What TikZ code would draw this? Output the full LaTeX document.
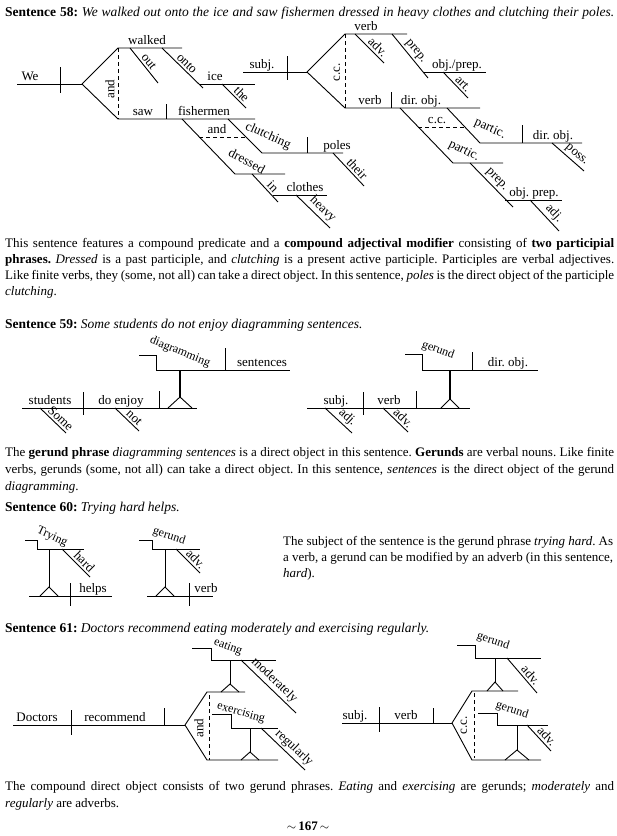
\documentclass[tikz,border=0pt]{standalone}
\usepackage{fontspec}
\setmainfont{Liberation Serif}
\newcommand\labf{\fontsize{13}{15}\selectfont}
\newcommand\stepf{\fontsize{12}{14}\selectfont}
\newcommand\bodyf{\fontsize{13}{16}\selectfont}
\newcommand\ttlf{\fontsize{13.5}{16}\selectfont}
\begin{document}
\frenchspacing
\begin{tikzpicture}[x=1pt,y=-1pt,
  ln/.style={line width=0.9pt},
  hv/.style={line width=1.6pt},
  dsh/.style={line width=0.9pt, dash pattern=on 4pt off 3pt},
  wl/.style={above, inner sep=1pt, text height=9pt, text depth=2.5pt, font=\labf},
  sl/.style={sloped, above, inner sep=2pt, font=\labf, pos=0.5},
  sll/.style={sl, pos=0.62},
  rl/.style={inner sep=0pt, font=\labf},
  rs/.style={inner sep=0pt, font=\stepf},
  vl/.style={rotate=90, inner sep=0pt, font=\labf},
  body/.style={anchor=base west, inner sep=0pt, font=\bodyf},
  ttl/.style={anchor=base west, inner sep=0pt, font=\ttlf},
]
\fill[white] (0,0) rectangle (617,836);
\useasboundingbox (0,0) rectangle (617,836);

% ---------------- Sentence 58
\node[ttl] (t58) at (5,16) {\makebox[609pt][s]{\textbf{Sentence 58:} \textit{We walked out onto the ice and saw fishermen dressed in heavy clothes and clutching their poles.}}};
\draw[ln] (17,84) -- (82,84);
\draw[ln] (60,67) -- (60,93);
\node[wl] (we) at (30,84) {We};
\draw[ln] (82,84) -- (118,48) -- (182,48);
\draw[ln] (82,84) -- (118,119) -- (255,119);
\node[wl] (walked) at (147,48) {walked};
\draw[dsh] (118,48) -- (118,119);
\node[vl] (and1) at (110,89) {and};
\draw[ln] (130,48) -- node[sl] (out) {out} (158,83);
\draw[ln] (162,48) -- node[sl] (onto) {onto} (203,88);
\draw[ln] (199,84) -- (255,84);
\node[wl] (ice) at (215,84) {ice};
\draw[ln] (222,84) -- node[sll] (the) {the} (246,108);
\draw[ln] (166,104) -- (166,119);
\node[wl] (saw) at (143,119) {saw};
\node[wl] (fish) at (204,119) {fishermen};
\draw[ln] (182,119) -- (235,174) -- (285,174);
\node[rl, rotate=-28] (dressed) at (247,161) {dressed};
\draw[ln] (252,174) -- node[sll] (in) {in} (278,202);
\draw[ln] (273,195) -- (327,195);
\node[wl] (clothes) at (305,195) {clothes};
\draw[ln] (296,195) -- node[sll] (heavy) {heavy} (330,228);
\draw[dsh] (199,137) -- (246,137);
\node[wl] (and2) at (217,137) {and};
\draw[ln] (228,119) -- (262,153) -- (343,153);
\node[rl, rotate=-24] (clutch) at (268,136) {clutching};
\draw[ln] (307,137) -- (307,153);
\node[wl] (poles) at (337,153) {poles};
\draw[ln] (333,153) -- node[sll] (their) {their} (364,186);
% template
\draw[ln] (243,72) -- (307,72);
\draw[ln] (287,56) -- (287,80);
\node[wl] (subj1) at (262,72) {subj.};
\draw[ln] (307,72) -- (345,34) -- (407,34);
\draw[ln] (307,72) -- (345,108) -- (480,108);
\node[wl] (verb1) at (366,34) {verb};
\draw[dsh] (345,34) -- (345,108);
\node[vl] (cc1) at (337,72) {c.c.};
\draw[ln] (355,34) -- node[sll] (adv1) {adv.} (384,63);
\draw[ln] (392,34) -- node[sl] (prep1) {prep.} (428,78);
\draw[ln] (423,72) -- (486,72);
\node[wl] (objprep1) at (457,72) {obj./prep.};
\draw[ln] (443,72) -- node[sll] (art) {art.} (468,98);
\draw[ln] (391,92) -- (391,108);
\node[wl] (verb2) at (370,108) {verb};
\node[wl] (dobj1) at (421,108) {dir. obj.};
\draw[ln] (400,108) -- (453,163) -- (503,163);
\draw[ln] (447,108) -- (480,143) -- (582,143);
\draw[dsh] (418,127) -- (465,127);
\node[wl] (cc2) at (437,127) {c.c.};
\node[rl, rotate=-24] (partic1) at (490,129) {partic.};
\node[rl, rotate=-27] (partic2) at (464,151) {partic.};
\draw[ln] (522,125) -- (522,143);
\node[wl] (dobj2) at (553,143) {dir. obj.};
\draw[ln] (552,143) -- node[sll] (poss) {poss.} (584,171);
\draw[ln] (470,163) -- node[sl] (prep2) {prep.} (513,207);
\draw[ln] (505,200) -- (562,200);
\node[wl] (objprep2) at (534,200) {obj. prep.};
\draw[ln] (530,200) -- node[sll] (adj1) {adj.} (559,231);

\node[body] (p58a) at (5,247) {\makebox[609pt][s]{This sentence features a compound predicate and a \textbf{compound adjectival modifier} consisting of \textbf{two participial}}};
\node[body] (p58b) at (5,263) {\makebox[609pt][s]{\textbf{phrases.} \textit{Dressed} is a past participle, and \textit{clutching} is a present active participle. Participles are verbal adjectives.}};
\node[body] (p58c) at (5,279) {\makebox[609pt][s]{Like finite verbs, they (some, not all) can take a direct object. In this sentence, \textit{poles} is the direct object of the participle}};
\node[body] (p58d) at (5,295) {\textit{clutching}.};

% ---------------- Sentence 59
\node[ttl] (t59) at (5,328) {\textbf{Sentence 59:} \textit{Some students do not enjoy diagramming sentences.}};
\draw[ln] (22,408) -- (197,408);
\draw[ln] (83,392) -- (83,415);
\draw[ln] (159,391) -- (159,408);
\node[wl] (students) at (50,408) {students};
\node[wl] (doenjoy) at (121,408) {do enjoy};
\draw[ln] (168,408) -- (180,397) -- (192,408);
\draw[hv] (180,397) -- (180,370);
\draw[ln] (139,355) -- (156,355) -- (156,370) -- (290,370);
\node[rs, rotate=-22] (diag) at (180,352) {diagramming};
\draw[ln] (225,348) -- (225,370);
\node[wl] (sentences) at (262,370) {sentences};
\draw[ln] (40,408) -- node[sll] (some) {Some} (66,433);
\draw[ln] (115,408) -- node[sll] (not) {not} (139,431);

\draw[ln] (307,408) -- (470,408);
\draw[ln] (363,392) -- (363,415);
\draw[ln] (416,391) -- (416,408);
\node[wl] (subj2) at (336,408) {subj.};
\node[wl] (verb3) at (389,408) {verb};
\draw[ln] (441,408) -- (450,399) -- (459,408);
\draw[hv] (450,399) -- (450,370);
\draw[ln] (405,354) -- (422,354) -- (422,370) -- (538,370);
\node[rs, rotate=-20] (ger1) at (438,350) {gerund};
\draw[ln] (472,352) -- (472,370);
\node[wl] (dobj3) at (508,370) {dir. obj.};
\draw[ln] (325,408) -- node[sll] (adj2) {adj.} (352,433);
\draw[ln] (383,408) -- node[sll] (adv2) {adv.} (408,432);

\node[body] (p59a) at (5,456) {\makebox[609pt][s]{The \textbf{gerund phrase} \textit{diagramming sentences} is a direct object in this sentence. \textbf{Gerunds} are verbal nouns. Like finite}};
\node[body] (p59b) at (5,473) {\makebox[609pt][s]{verbs, gerunds (some, not all) can take a direct object. In this sentence, \textit{sentences} is the direct object of the gerund}};
\node[body] (p59c) at (5,490) {\textit{diagramming}.};

% ---------------- Sentence 60
\node[ttl] (t60) at (5,511) {\textbf{Sentence 60:} \textit{Trying hard helps.}};
\draw[ln] (25,540) -- (37,540) -- (37,549) -- (84,549);
\node[rs, rotate=-25] (trying) at (52,537) {Trying};
\draw[ln] (49,549) -- (49,587);
\draw[ln] (40,596) -- (49,587) -- (58,596);
\draw[ln] (29,596) -- (112,596);
\draw[ln] (70,583) -- (70,606);
\node[wl] (helps) at (93,596) {helps};
\draw[ln] (62,549) -- node[sll] (hard) {hard} (90,577);

\draw[ln] (139,540) -- (152,540) -- (152,549) -- (200,549);
\node[rs, rotate=-18] (ger2) at (169,536) {gerund};
\draw[ln] (165,549) -- (165,587);
\draw[ln] (156,596) -- (165,587) -- (174,596);
\draw[ln] (147,596) -- (213,596);
\draw[ln] (189,583) -- (189,606);
\node[wl] (verb4) at (206,596) {verb};
\draw[ln] (176,549) -- node[sll] (adv3) {adv.} (200,573);

\node[body] (p60a) at (283,545) {\makebox[330pt][s]{The subject of the sentence is the gerund phrase \textit{trying hard}. As}};
\node[body] (p60b) at (283,561) {\makebox[330pt][s]{a verb, a gerund can be modified by an adverb (in this sentence,}};
\node[body] (p60c) at (283,577) {\textit{hard}).};

% ---------------- Sentence 61
\node[ttl] (t61) at (5,632) {\textbf{Sentence 61:} \textit{Doctors recommend eating moderately and exercising regularly.}};
\draw[ln] (13,725) -- (185,725);
\draw[ln] (71,710) -- (71,735);
\draw[ln] (164,708) -- (164,725);
\node[wl] (doctors) at (37,725) {Doctors};
\node[wl] (recommend) at (115,725) {recommend};
\draw[ln] (185,725) -- (207,692) -- (245,692);
\draw[ln] (185,725) -- (207,760) -- (278,760);
\draw[dsh] (209,695) -- (209,760);
\node[vl] (and3) at (199,728) {and};
\draw[ln] (221,692) -- (230,684) -- (239,692);
\draw[ln] (230,684) -- (230,660);
\draw[ln] (192,648) -- (211,648) -- (211,660) -- (276,660);
\node[rs, rotate=-20] (eating) at (228,647) {eating};
\draw[ln] (241,660) -- node[sl] (moder) {moderately} (296,713);
\draw[ln] (212,714) -- (231,714) -- (231,728) -- (278,728);
\node[rs, rotate=-16] (exerc) at (241,713) {exercising};
\draw[ln] (250,728) -- (250,752);
\draw[ln] (241,760) -- (250,752) -- (259,760);
\draw[ln] (261,728) -- node[sll] (regul) {regularly} (305,770);

\draw[ln] (342,723) -- (452,723);
\draw[ln] (379,707) -- (379,732);
\draw[ln] (433,708) -- (433,723);
\node[wl] (subj3) at (355,723) {subj.};
\node[wl] (verb5) at (406,723) {verb};
\draw[ln] (452,723) -- (472,691) -- (518,691);
\draw[ln] (452,723) -- (472,760) -- (541,760);
\draw[dsh] (474,693) -- (474,758);
\node[vl] (cc3) at (464,725) {c.c.};
\draw[ln] (487,691) -- (495,682) -- (503,691);
\draw[ln] (495,682) -- (495,658);
\draw[ln] (457,645) -- (475,645) -- (475,658) -- (541,658);
\node[rs, rotate=-18] (ger3) at (493,641) {gerund};
\draw[ln] (507,658) -- node[sll] (adv4) {adv.} (537,693);
\draw[ln] (478,713) -- (497,713) -- (497,725) -- (548,725);
\node[rs, rotate=-18] (ger4) at (512,710) {gerund};
\draw[ln] (517,725) -- (517,750);
\draw[ln] (505,760) -- (517,750) -- (529,760);
\draw[ln] (527,725) -- node[sll] (adv5) {adv.} (551,751);

\node[body] (p61a) at (5,790) {\makebox[609pt][s]{The compound direct object consists of two gerund phrases. \textit{Eating} and \textit{exercising} are gerunds; \textit{moderately} and}};
\node[body] (p61b) at (5,807) {\textit{regularly} are adverbs.};
\node[anchor=base, inner sep=0pt, font=\bodyf] (page) at (308,830) {$\sim$\,\textbf{167}\,$\sim$};
\end{tikzpicture}
\end{document}
